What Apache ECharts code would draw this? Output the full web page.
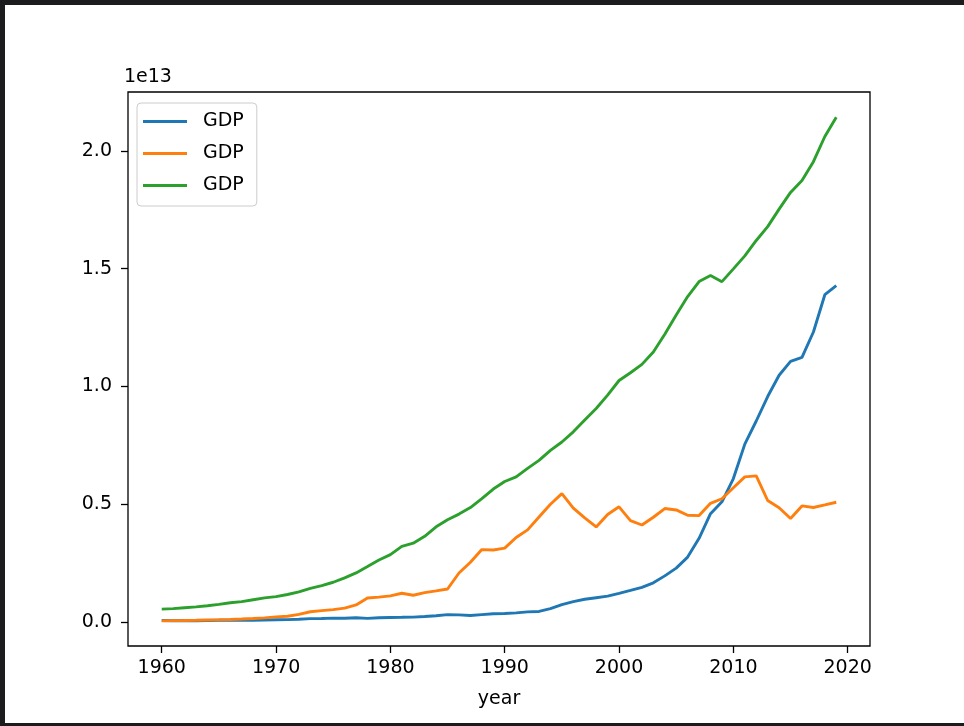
<!DOCTYPE html>
<html>
<head>
<meta charset="utf-8">
<script src="https://cdn.jsdelivr.net/npm/echarts@6/dist/echarts.min.js"></script>
<style>
  html, body { margin: 0; padding: 0; background: #ffffff; }
  #chart { position: absolute; left: 0; top: 0; width: 964px; height: 726px; }
  .frame { position: absolute; background: #1c1c1e; pointer-events: none; }
</style>
</head>
<body>
<div id="chart"></div>
<div class="frame" style="left:0;top:0;width:964px;height:5px;"></div>
<div class="frame" style="left:0;top:0;width:5px;height:726px;"></div>
<div class="frame" style="left:0;top:723px;width:964px;height:3px;"></div>
<script>
// Years (x-axis)
const years = [];
for (let y = 1960; y <= 2019; y++) years.push(y);

// GDP values in billions of current US$
const gdpBlue = [59.7, 50.1, 47.2, 50.7, 59.7, 70.4, 76.7, 72.9, 70.8, 79.7,
  92.6, 99.8, 113.7, 138.5, 144.2, 163.4, 153.9, 174.9, 149.5, 178.3,
  191.1, 195.9, 205.1, 230.7, 259.9, 309.5, 300.8, 273.0, 312.4, 347.8,
  360.9, 383.4, 426.9, 444.7, 564.3, 734.5, 863.7, 961.6, 1029.0, 1094.0,
  1211.3, 1339.4, 1470.6, 1660.3, 1955.3, 2286.0, 2752.1, 3550.3, 4594.3, 5101.7,
  6087.2, 7551.5, 8532.2, 9570.4, 10475.7, 11061.6, 11233.3, 12310.4, 13894.8, 14279.9];

const gdpOrange = [44.3, 53.5, 60.7, 69.5, 81.7, 91.0, 105.6, 123.8, 146.6, 172.2,
  212.6, 240.2, 318.0, 432.1, 479.6, 521.5, 586.2, 721.4, 1013.6, 1055.0,
  1105.4, 1219.0, 1134.5, 1243.3, 1318.4, 1398.9, 2079.0, 2532.8, 3071.7, 3054.9,
  3132.8, 3584.4, 3908.8, 4454.1, 4998.8, 5449.1, 4833.7, 4414.7, 4032.5, 4562.1,
  4887.5, 4303.5, 4115.1, 4445.7, 4815.1, 4755.4, 4530.4, 4515.3, 5037.9, 5231.4,
  5700.1, 6157.5, 6203.2, 5155.7, 4850.4, 4389.5, 4926.7, 4860.0, 4970.9, 5082.5];

const gdpGreen = [543.3, 563.3, 605.1, 638.6, 685.8, 743.7, 815.0, 861.7, 942.5, 1019.9,
  1073.3, 1164.9, 1279.1, 1425.4, 1545.2, 1684.9, 1873.4, 2081.8, 2351.6, 2627.3,
  2857.3, 3207.0, 3343.8, 3634.0, 4037.6, 4339.0, 4579.6, 4855.2, 5236.4, 5641.6,
  5963.1, 6158.1, 6520.3, 6858.6, 7287.2, 7639.7, 8073.1, 8577.6, 9062.8, 9631.2,
  10251.0, 10581.8, 10936.4, 11458.2, 12213.7, 13036.6, 13814.6, 14451.9, 14712.8, 14448.9,
  14992.1, 15542.6, 16197.0, 16784.8, 17527.3, 18238.3, 18745.1, 19543.0, 20611.9, 21433.2];

// Tick labels
const xTicks = [1960, 1970, 1980, 1990, 2000, 2010, 2020];
const yTicks = [0.0, 0.5, 1.0, 1.5, 2.0];
const seriesNames = ['GDP', 'GDP ', 'GDP  '];
const seriesColors = ['#1f77b4', '#ff7f0e', '#2ca02c'];

// convert billions -> units of 1e13
const toE13 = arr => arr.map((v, i) => [years[i], v / 10000]);
const allData = [gdpBlue, gdpOrange, gdpGreen];

const font = "'DejaVu Sans', sans-serif";
const chart = echarts.init(document.getElementById('chart'), null, { renderer: 'canvas' });

const option = {
  backgroundColor: '#ffffff',
  animation: false,
  grid: {
    left: 128, right: 94, top: 92, bottom: 80,
    show: true, borderColor: '#000000', borderWidth: 1.3, backgroundColor: 'transparent'
  },
  legend: {
    orient: 'vertical',
    left: 137, top: 103,
    padding: [9, 13, 11, 6],
    itemWidth: 44, itemHeight: 3, itemGap: 13,
    icon: 'rect',
    backgroundColor: 'rgba(255,255,255,0.8)',
    borderColor: '#cccccc', borderWidth: 1, borderRadius: 4,
    data: seriesNames,
    formatter: n => n.trim(),
    textStyle: { fontFamily: font, fontSize: 19, color: '#000', padding: [0, 0, 0, 11], lineHeight: 19 }
  },
  graphic: [{
    type: 'text', left: 124, top: 68,
    style: { text: '1e13', font: "19px 'DejaVu Sans', sans-serif", fill: '#000' }
  }],
  xAxis: {
    type: 'value',
    min: 1957.05, max: 2021.95,
    name: 'year', nameLocation: 'middle', nameGap: 44,
    nameTextStyle: { fontFamily: font, fontSize: 19, color: '#000' },
    axisLine: { show: false, onZero: false },
    splitLine: { show: false },
    axisTick: { show: true, length: 7, customValues: xTicks, lineStyle: { color: '#000', width: 1.3 } },
    axisLabel: { show: true, margin: 13, customValues: xTicks, formatter: v => String(v),
      fontFamily: font, fontSize: 19, color: '#000' }
  },
  yAxis: {
    type: 'value',
    min: -0.1022, max: 2.2502,
    axisLine: { show: false, onZero: false },
    splitLine: { show: false },
    axisTick: { show: true, length: 7, customValues: yTicks, lineStyle: { color: '#000', width: 1.3 } },
    axisLabel: { show: true, margin: 16, customValues: yTicks, formatter: v => v.toFixed(1),
      fontFamily: font, fontSize: 19, color: '#000' }
  },
  series: allData.map((d, i) => ({
    name: seriesNames[i],
    type: 'line',
    data: toE13(d),
    showSymbol: false,
    symbol: 'none',
    lineStyle: { color: seriesColors[i], width: 2.9 },
    itemStyle: { color: seriesColors[i] },
    z: 2 + i
  }))
};
chart.setOption(option);
</script>
</body>
</html>
